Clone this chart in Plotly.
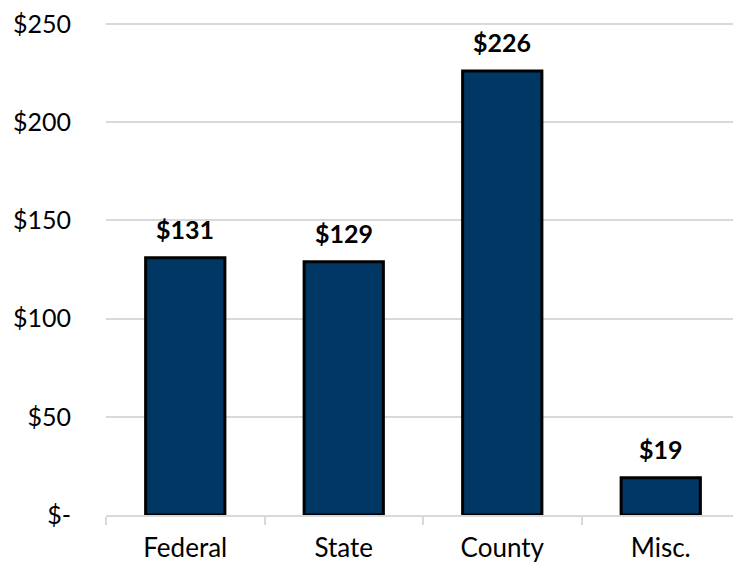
import plotly.graph_objects as go

categories = ["Federal", "State", "County", "Misc."]
values = [131, 129, 226, 19]
labels = ["$131", "$129", "$226", "$19"]
y_tickvals = [0, 50, 100, 150, 200, 250]
y_ticktext = ["$-", "$50", "$100", "$150", "$200", "$250"]

FONT = "Lato, Open Sans, sans-serif"

fig = go.Figure()
fig.add_trace(go.Bar(
    x=categories, y=values,
    marker=dict(color="#003764", line=dict(color="#000000", width=3)),
    width=0.5,
    hoverinfo="skip",
))

for c, v, t in zip(categories, values, labels):
    fig.add_annotation(x=c, y=v, text="<b>%s</b>" % t, showarrow=False,
                       yanchor="bottom", yshift=12,
                       font=dict(family=FONT, size=25, color="#000000"))

fig.update_layout(
    width=733, height=556,
    margin=dict(l=98, r=1, t=14, b=49, autoexpand=False),
    paper_bgcolor="white", plot_bgcolor="white",
    showlegend=False,
    bargap=0.5,
    font=dict(family=FONT, size=25, color="#000000"),
)
fig.update_xaxes(
    automargin=False,
    showline=True, linecolor="#d9d9d9", linewidth=1.5,
    ticks="outside", tickson="boundaries", ticklen=8, tickcolor="#d9d9d9", tickwidth=1.5,
    ticklabelstandoff=9, ticklabeloverflow="allow",
    tickfont=dict(family=FONT, size=26, color="#000000"),
    showgrid=False,
)
fig.update_yaxes(
    automargin=False,
    range=[0, 251], tickvals=y_tickvals, ticktext=y_ticktext,
    showgrid=True, gridcolor="#d9d9d9", gridwidth=1.5,
    zeroline=False, showline=False, ticks="",
    ticklabelstandoff=34, ticklabeloverflow="allow",
    tickfont=dict(family=FONT, size=25, color="#000000"),
)

fig.write_html("out.html")
